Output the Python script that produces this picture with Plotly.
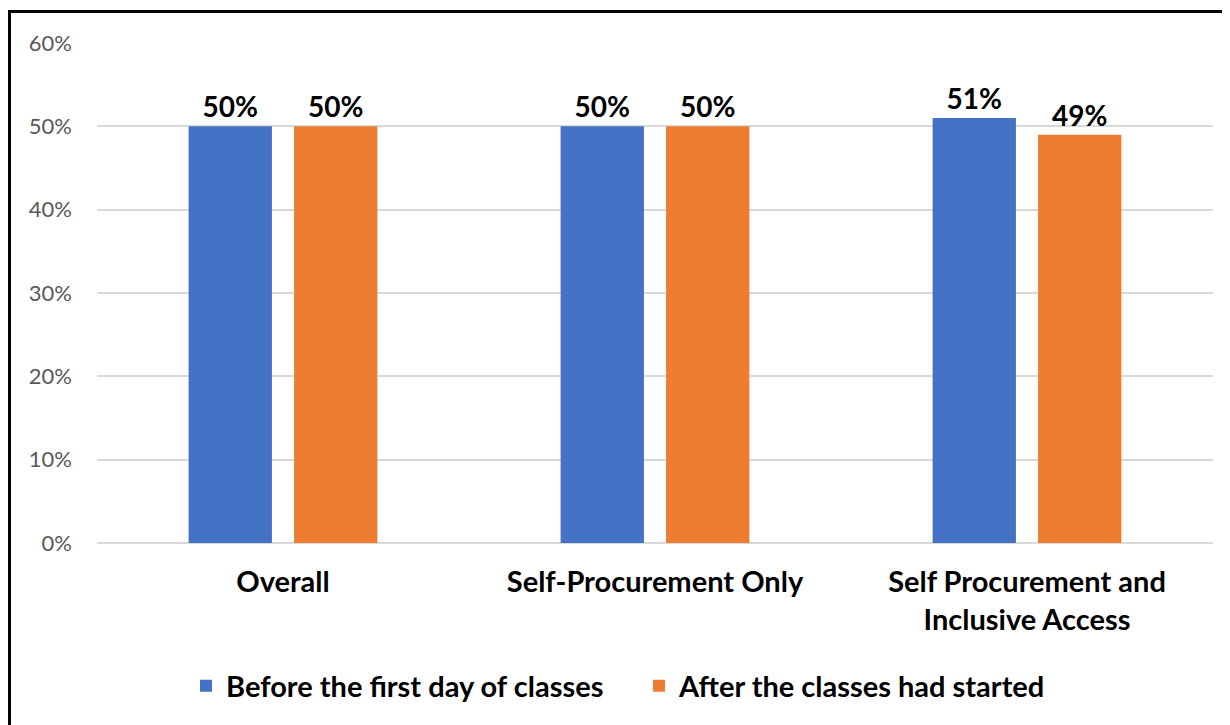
import plotly.graph_objects as go

categories = ["Overall", "Self-Procurement Only", "Self Procurement and<br>Inclusive Access"]
series_names = ["Before the first day of classes", "After the classes had started"]
before_vals = [0.50, 0.50, 0.51]
after_vals = [0.50, 0.50, 0.49]
colors = ["#4472C4", "#ED7D31"]

FONT = "Lato"

fig = go.Figure()
for name, vals, col in zip(series_names, [before_vals, after_vals], colors):
    fig.add_trace(go.Bar(
        x=categories, y=vals, name=name,
        marker=dict(color=col, line=dict(width=0)),
        texttemplate="%{y:.0%}", textposition="outside",
        textfont=dict(family=FONT, size=28, color="#000000", weight="bold"),
        cliponaxis=False,
    ))

# page has 8px body margin -> work in page pixels, convert to figure pixels
OFF = 8
W, H = 1222, 717
L, R, T, B = 97 - OFF, 17, 43 - OFF, 182
pw, ph = W - L - R, H - T - B

def px_x(p):
    return (p - OFF - L) / pw

def px_y(p):
    return 1 - (p - OFF - T) / ph

fig.update_layout(
    width=W, height=H,
    margin=dict(l=L, r=R, t=T, b=B),
    paper_bgcolor="white", plot_bgcolor="white",
    barmode="group", bargap=0.433, bargroupgap=0.21,
    font=dict(family=FONT),
    showlegend=True,
    legend=dict(
        orientation="h", x=px_x(186), xanchor="left", y=px_y(686), yanchor="middle",
        font=dict(family=FONT, size=29, color="#000000", weight="bold"),
        traceorder="normal", itemwidth=30, entrywidth=408,
    ),
    xaxis=dict(
        showgrid=False, showline=False, ticks="",
        tickfont=dict(family=FONT, size=29, color="#000000", weight="bold"),
        ticklabelstandoff=19,
    ),
    yaxis=dict(
        range=[0, 0.6], dtick=0.1, tickformat=".0%",
        showgrid=True, gridcolor="#D9D9D9", gridwidth=2,
        zeroline=True, zerolinecolor="#D9D9D9", zerolinewidth=2,
        showline=False, ticks="",
        tickfont=dict(family=FONT, size=22, color="#595959"),
        ticklabelstandoff=24,
    ),
    shapes=[
        dict(type="line", xref="paper", yref="paper", x0=px_x(8), x1=px_x(1240), y0=px_y(11.5), y1=px_y(11.5),
             line=dict(color="black", width=3)),
        dict(type="line", xref="paper", yref="paper", x0=px_x(9.5), x1=px_x(9.5), y0=px_y(10), y1=px_y(740),
             line=dict(color="black", width=3)),
    ],
)

fig.write_html("out.html")
